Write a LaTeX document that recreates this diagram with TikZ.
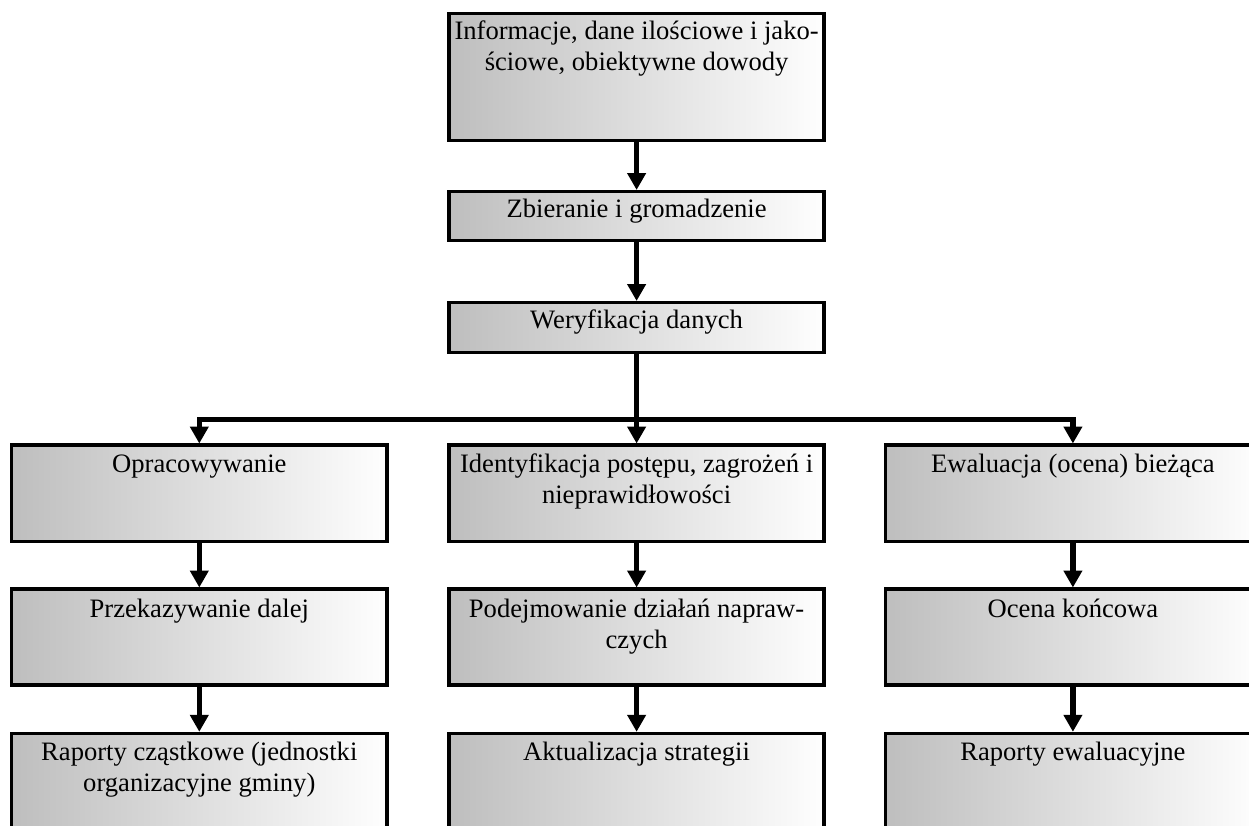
\documentclass[tikz,border=0pt]{standalone}
\usepackage{fontspec}
\setmainfont{Liberation Serif}
\usetikzlibrary{arrows.meta}
\definecolor{boxgray}{RGB}{190,190,190}
\definecolor{boxwhite}{RGB}{254,254,254}
\newcommand{\bxtext}[3]{\parbox[t][#1pt][t]{375.2pt}{\centering\rule{0pt}{#2pt}#3}}
\tikzset{
  flowbox/.style={draw=black, line width=3.5pt, inner sep=0pt, outer sep=0pt,
    rectangle, anchor=north west, left color=boxgray, right color=boxwhite,
    font=\fontsize{26.6pt}{31pt}\selectfont},
  conn/.style={draw=black, line width=5.5pt, line join=miter,
    -{Triangle[width=18pt,length=17pt]}, shorten >=1.5pt},
  plainline/.style={draw=black, line width=5.5pt}
}
\begin{document}
\begin{tikzpicture}[x=1pt,y=-1pt]
\useasboundingbox (0,0) rectangle (1249,825);
\clip (0,0) rectangle (1249,825);
% top chain
\node[flowbox] (info) at (449,13.5) {\bxtext{127}{26}{Informacje, dane ilościowe i jako-\\ściowe, obiektywne dowody}};
\node[flowbox] (zbier) at (449,191.5) {\bxtext{49}{25.5}{Zbieranie i gromadzenie}};
\node[flowbox] (wer) at (449,302.5) {\bxtext{50}{25.8}{Weryfikacja danych}};
% row 1
\node[flowbox] (opr) at (11.7,445) {\bxtext{96.5}{27.5}{Opracowywanie}};
\node[flowbox] (ident) at (449,445) {\bxtext{96.5}{27.5}{Identyfikacja postępu, zagrożeń i\\nieprawidłowości}};
\node[flowbox] (ewal) at (885.3,445) {\bxtext{96.5}{27.5}{Ewaluacja (ocena) bieżąca}};
% row 2
\node[flowbox] (przek) at (11.7,589) {\bxtext{96}{28}{Przekazywanie dalej}};
\node[flowbox] (podej) at (449,589) {\bxtext{96}{28}{Podejmowanie działań napraw-\\czych}};
\node[flowbox] (ocena) at (885.3,589) {\bxtext{96}{28}{Ocena końcowa}};
% row 3
\node[flowbox] (rap) at (11.7,733.3) {\bxtext{96}{27}{Raporty cząstkowe (jednostki\\organizacyjne gminy)}};
\node[flowbox] (aktu) at (449,733.3) {\bxtext{96}{27}{Aktualizacja strategii}};
\node[flowbox] (rapew) at (885.3,733.3) {\bxtext{96}{27}{Raporty ewaluacyjne}};
% connectors
\draw[conn] (info.south) -- (zbier.north);
\draw[conn] (zbier.south) -- (wer.north);
\coordinate (split) at (wer.south |- 0,419.5);
\draw[plainline] (wer.south) -- (split);
\draw[conn] (split) -| (opr.north);
\draw[conn] (split) -- (ident.north);
\draw[conn] (split) -| (ewal.north);
\draw[conn] (opr.south) -- (przek.north);
\draw[conn] (przek.south) -- (rap.north);
\draw[conn] (ident.south) -- (podej.north);
\draw[conn] (podej.south) -- (aktu.north);
\draw[conn] (ewal.south) -- (ocena.north);
\draw[conn] (ocena.south) -- (rapew.north);
\end{tikzpicture}
\end{document}
